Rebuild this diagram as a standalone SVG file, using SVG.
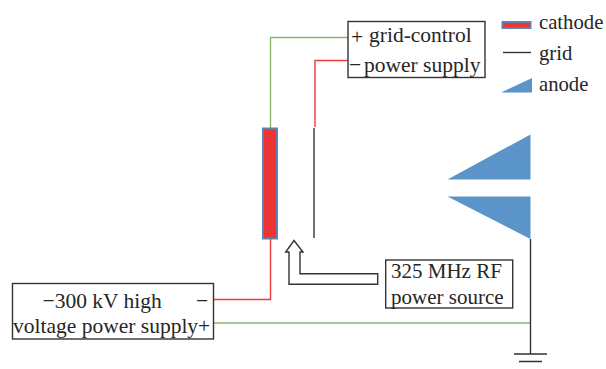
<svg xmlns="http://www.w3.org/2000/svg" width="606" height="369" viewBox="0 0 606 369">
<style>
text{font-family:"Liberation Serif","Times New Roman",serif;font-size:21.500px;fill:#262626}
.leg{font-size:20.700px}
.rf{font-size:21px}
.box{fill:#fff;stroke:#333;stroke-width:1.4}
.r{fill:none;stroke:#ee3a3a;stroke-width:1.4}
.g{fill:none;stroke:#8cb56e;stroke-width:1.4}
.k{fill:none;stroke:#333;stroke-width:1.4}
.a{fill:#5a94c8}
.c{fill:#ee3333;stroke:#5f83ac;stroke-width:2}
</style>
<rect width="606" height="369" fill="#fff"/>
<g id="connectors">
<path class="g" d="M348 37.5H270.500V128"/>
<path class="r" d="M348 60.500H315V127"/>
<path class="r" d="M213 299.500H270.500V239"/>
<path class="g" d="M213 323H530"/>
<path class="k" d="M530.500 239V354"/>
<path class="k" d="M514 354H547M519 361.500H542"/>
</g>
<g id="grid-control-supply">
<rect class="box" x="348" y="21.500" width="137" height="56"/>
<text x="351" y="44">+</text>
<text x="369" y="42">grid-control</text>
<text x="349" y="71.500">−</text>
<text x="364" y="71.500">power supply</text>
</g>
<g id="legend">
<rect class="c" x="502.500" y="22" width="28" height="6"/>
<text class="leg" x="539" y="29">cathode</text>
<path class="k" d="M503 52.500H531"/>
<text class="leg" x="539" y="60">grid</text>
<path class="a" d="M501 92.500L532 78V92.500Z"/>
<text class="leg" x="539" y="91">anode</text>
</g>
<g id="cathode"><rect class="c" x="263" y="128.500" width="14" height="110"/></g>
<g id="grid"><path class="k" d="M314 128V238"/></g>
<g id="anode">
<path class="a" d="M447.500 179.500L530.500 134.500V179.500Z"/>
<path class="a" d="M447.500 196.500H530.500V239Z"/>
</g>
<g id="rf-arrow"><path d="M294 240.500L303 252H300V273.700H377.700V284.300H289V252H285.700Z" fill="#fff" stroke="#333" stroke-width="1.400"/></g>
<g id="rf-source">
<rect class="box" x="385.700" y="260" width="127" height="48"/>
<text class="rf" x="391" y="278">325 MHz RF</text>
<text class="rf" x="391" y="304">power source</text>
</g>
<g id="hv-supply">
<rect class="box" x="12.500" y="283.500" width="201" height="55.500"/>
<text x="42.500" y="308">−300 kV high</text>
<text x="196" y="308">−</text>
<text x="13" y="333">voltage power supply+</text>
</g>
</svg>
